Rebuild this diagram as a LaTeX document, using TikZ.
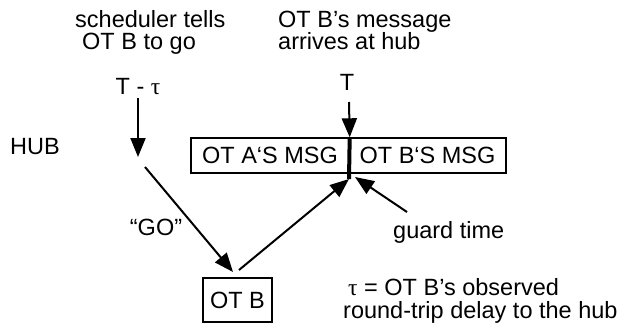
\documentclass[tikz,border=0pt]{standalone}
\usepackage{fontspec}
\setmainfont{Liberation Sans}
\newfontfamily\taufont{Liberation Serif}
\usetikzlibrary{arrows.meta}
\newcommand{\tauchar}{{\taufont τ}}
\tikzset{
  lbl/.style={inner sep=0pt, font=\fontsize{23.5}{23.5}\selectfont},
  msgbox/.style={draw, line width=1.4pt, inner sep=0pt, minimum height=35pt, font=\fontsize{23.5}{23.5}\selectfont},
  arr/.style={line width=2pt, -{Triangle[length=19pt,width=15pt]}},
  divider/.style={line width=4pt}
}
\begin{document}
\begin{tikzpicture}[x=1pt,y=-1pt]
\useasboundingbox (0,0) rectangle (621,329);
% header texts
\node[lbl, anchor=base west] (sched1) at (75,28) {scheduler tells};
\node[lbl, anchor=base west] (sched2) at (82,50) {OT B to go};
\node[lbl, anchor=base west] (msg1) at (278,28) {OT B’s message};
\node[lbl, anchor=base west] (msg2) at (278,50) {arrives at hub};
\node[lbl, anchor=base] (tmt) at (138,95) {T - \tauchar};
\node[lbl, anchor=base] (tt) at (347,90) {T};
\node[lbl, anchor=base west] (hub) at (10,154) {HUB};
% message boxes
\node[msgbox, minimum width=158pt] (boxa) at (270,155.5) {OT A‘S MSG};
\node[msgbox, minimum width=157pt] (boxb) at (427.5,155.5) {OT B‘S MSG};
\node[msgbox, minimum width=69pt, minimum height=44pt] (otb) at (237.5,300) {OT B};
% coordinates
\coordinate (tmtend) at (138,157);
\coordinate (gostart) at (145,167);
\coordinate (goend) at (233,272);
\coordinate (upstart) at (239,270);
\coordinate (divbot) at (349,179);
\coordinate (ttstart) at (349,102);
\coordinate (guardstart) at (407,212);
\coordinate (guardend) at (355,177);
% divider
\draw[divider] (boxa.north east) -- (divbot);
% arrows
\draw[arr] (138,98) -- (tmtend);
\draw[arr] (gostart) -- (goend);
\draw[arr] (upstart) -- (divbot);
\draw[arr] (ttstart) -- (boxa.north east);
\draw[arr] (guardstart) -- (guardend);
% labels
\node[lbl] (go) at (156,227) {“GO”};
\node[lbl, anchor=base west] (guard) at (393,238) {guard time};
\node[lbl, anchor=base west] (tau1) at (348,295) {\tauchar{} = OT B’s observed};
\node[lbl, anchor=base west] (tau2) at (343,318) {round-trip delay to the hub};
\end{tikzpicture}
\end{document}
